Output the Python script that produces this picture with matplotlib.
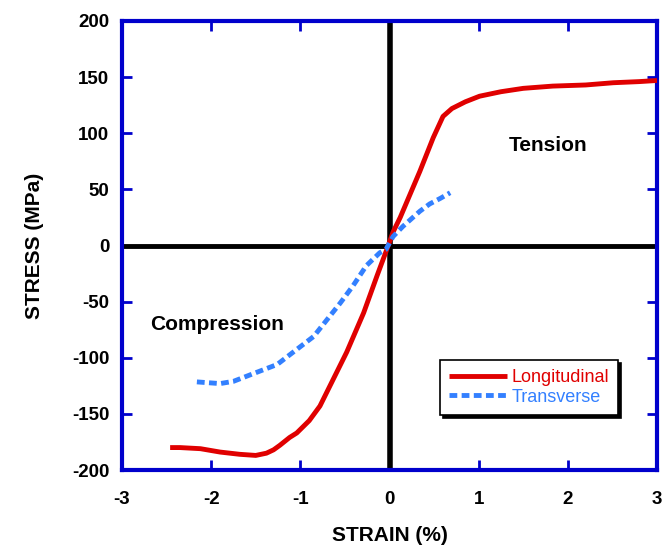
import matplotlib
matplotlib.use('Agg')
import matplotlib.pyplot as plt

# Longitudinal stress-strain curve (strain %, stress MPa)
long_strain = [-2.46, -2.35, -2.12, -1.90, -1.68, -1.50, -1.38, -1.30, -1.23, -1.12,
               -1.04, -0.90, -0.78, -0.63, -0.48, -0.29, -0.14, -0.03, 0.04, 0.12,
               0.34, 0.49, 0.60, 0.70, 0.85, 1.01, 1.25, 1.50, 1.83, 2.20, 2.51, 2.80, 3.0]
long_stress = [-180, -180, -181, -184, -186, -187, -185, -182, -178, -171,
               -167, -156, -143, -119, -95, -60, -27, -3.5, 12, 25,
               66, 96, 115, 122, 128, 133, 137, 140, 142, 143, 145, 146, 147]

# Transverse stress-strain curve
trans_strain = [-2.16, -1.90, -1.75, -1.49, -1.26, -1.08, -0.85, -0.70, -0.55, -0.41,
                -0.26, -0.11, -0.04, 0.04, 0.15, 0.34, 0.45, 0.57, 0.68]
trans_stress = [-121.5, -123, -121, -113, -106, -95, -81, -66, -51, -36,
                -18, -6.5, -3.5, 8, 17, 30.5, 37, 42, 47]

x_ticks = [-3, -2, -1, 0, 1, 2, 3]
y_ticks = [-200, -150, -100, -50, 0, 50, 100, 150, 200]

plt.rcParams['font.family'] = ['Liberation Sans', 'DejaVu Sans']
plt.rcParams['axes.unicode_minus'] = False

spine_blue = '#0000cc'
red = '#e00000'
light_blue = '#3380ff'

fig = plt.figure(figsize=(6.64, 5.48), dpi=100)
ax = fig.add_axes([0.1837, 0.1423, 0.8058, 0.8194])

ax.axhline(0, color='black', lw=3.5, zorder=2)
ax.axvline(0, color='black', lw=4, zorder=2)

ax.plot(long_strain, long_stress, color=red, lw=3.5, solid_capstyle='butt',
        zorder=3, label='Longitudinal')
ax.plot(trans_strain, trans_stress, color=light_blue, lw=3.5,
        dashes=(1.6, 0.9), zorder=3, label='Transverse')

ax.set_xlim(-3, 3)
ax.set_ylim(-200, 200)
ax.set_xticks(x_ticks)
ax.set_yticks(y_ticks)
ax.tick_params(direction='in', length=7, width=2, color=spine_blue,
               top=True, right=True, labelsize=13.5)
ax.tick_params(axis='x', pad=15)
ax.tick_params(axis='y', pad=9)
for lab in ax.get_xticklabels() + ax.get_yticklabels():
    lab.set_fontweight('bold')
for s in ax.spines.values():
    s.set_color(spine_blue)
    s.set_linewidth(3)

ax.set_xlabel('STRAIN (%)', fontsize=15, fontweight='bold', labelpad=13)
ax.set_ylabel('STRESS (MPa)', fontsize=15, fontweight='bold', labelpad=20)

ax.text(1.78, 89, 'Tension', fontsize=15, fontweight='bold', ha='center', va='center')
ax.text(-1.93, -70, 'Compression', fontsize=15, fontweight='bold', ha='center', va='center')

# legend box with drop shadow
leg = ax.legend(loc='upper left', bbox_to_anchor=(0.595, 0.245), fontsize=13,
                frameon=True, fancybox=False, shadow={'color': 'black', 'alpha': 1.0},
                handlelength=3.2, borderpad=0.5, labelspacing=0.15, handletextpad=0.25,
                borderaxespad=0)
leg.get_frame().set_edgecolor('black')
leg.get_frame().set_linewidth(1.2)
for txt, c in zip(leg.get_texts(), [red, light_blue]):
    txt.set_color(c)

fig.savefig('out.png', dpi=100, facecolor='white')
